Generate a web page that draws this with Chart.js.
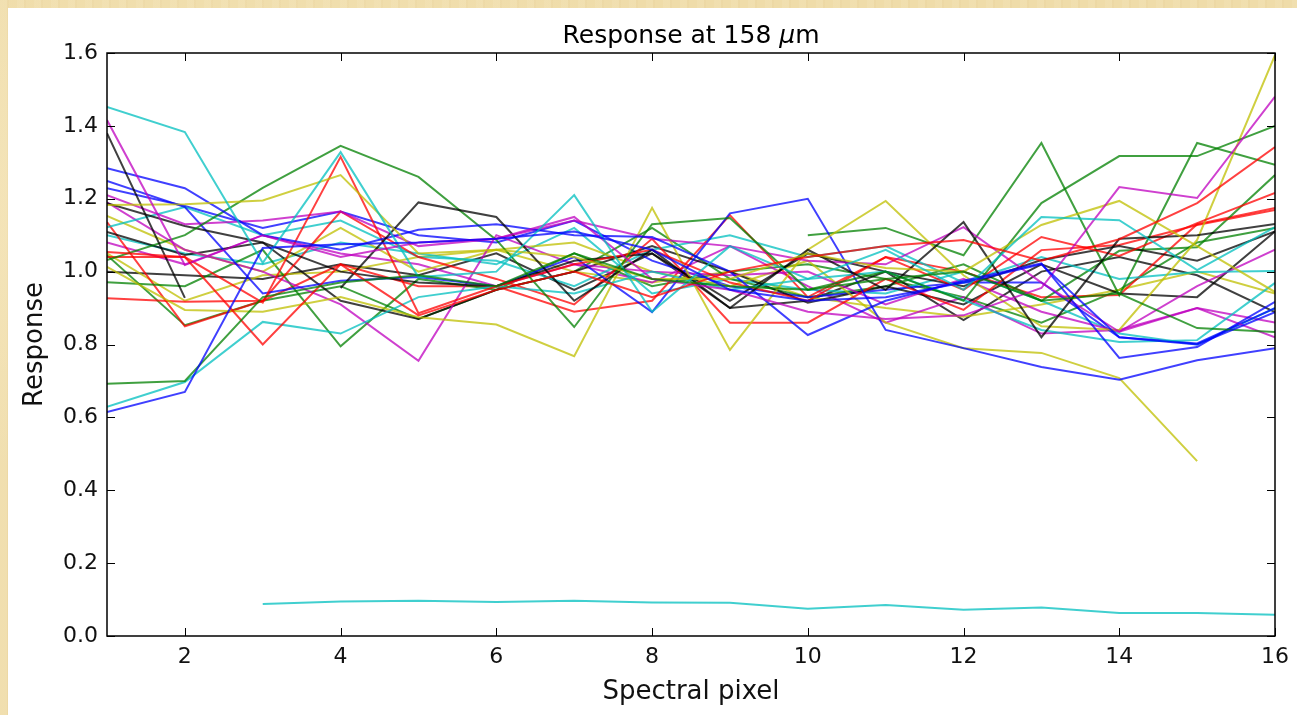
<!DOCTYPE html>
<html>
<head>
<meta charset="utf-8">
<title>Response at 158 um</title>
<script src="https://cdn.jsdelivr.net/npm/chart.js@4.4.0/dist/chart.umd.min.js"></script>
<style>
  html, body { margin: 0; padding: 0; }
  body {
    width: 1297px; height: 715px; overflow: hidden; position: relative;
    background-color: #efdca9;
    background-image:
      radial-gradient(ellipse at 20% 30%, rgba(255,245,215,0.35), rgba(255,245,215,0) 40%),
      radial-gradient(ellipse at 70% 80%, rgba(215,180,120,0.25), rgba(215,180,120,0) 45%),
      repeating-linear-gradient(90deg, rgba(255,250,230,0.10) 0 7px, rgba(210,175,115,0.08) 7px 9px, rgba(255,255,255,0) 9px 17px);
  }
  #wrap { position: absolute; left: 8px; top: 8px; width: 1289px; height: 707px; background: #fff; }
</style>
</head>
<body>
<div id="wrap"><canvas id="respChart"></canvas></div>
<script>
// spectral pixel index (x) and y axis ticks
const pixels = [1, 2, 3, 4, 5, 6, 7, 8, 9, 10, 11, 12, 13, 14, 15, 16];
const yTicks = [0, 0.2, 0.4, 0.6, 0.8, 1.0, 1.2, 1.4, 1.6];

// response curves, one per spaxel
const blue1 = [0.615, 0.67, 1.065, 1.075, 1.08, 1.09, 1.11, 1.06, 0.95, 0.92, 0.93, 0.97, 1.02, 0.82, 0.80, 0.889];
const blue2 = [1.284, 1.229, 1.10, 1.06, 1.115, 1.13, 1.10, 1.095, 1.00, 0.826, 0.92, 0.975, 1.023, 0.763, 0.793, 0.917];
const blue3 = [1.249, 1.177, 0.94, 0.975, 0.985, 0.96, 1.04, 0.889, 1.16, 1.20, 0.84, 0.79, 0.738, 0.703, 0.757, 0.79];
const blue4 = [1.229, 1.18, 1.12, 1.165, 1.10, 1.08, 1.14, 1.03, 0.96, 0.93, 0.95, 0.97, 0.97, 0.82, 0.803, 0.90];

const green1 = [0.692, 0.70, 0.93, 0.97, 0.99, 0.96, 1.05, 0.98, 0.96, 0.95, 0.98, 1.00, 0.92, 0.94, 0.845, 0.834];
const green2 = [1.032, 1.10, 1.23, 1.345, 1.26, 1.087, 0.848, 1.13, 1.147, 0.95, 1.00, 0.92, 1.188, 1.317, 1.317, 1.40];
const green3 = [null, null, null, null, null, null, null, null, null, 1.10, 1.12, 1.045, 1.353, 0.935, 1.353, 1.293];
const green4 = [0.971, 0.96, 1.06, 0.795, 0.98, 0.95, 1.00, 1.12, 0.98, 0.93, 0.96, 1.02, 0.92, 1.057, 1.067, 1.265];
const green5 = [1.045, 0.853, 0.92, 0.96, 0.87, 0.95, 1.05, 0.96, 1.00, 1.02, 0.98, 0.93, 0.86, 0.95, 1.08, 1.12];

const red1 = [1.054, 1.04, 0.80, 1.02, 0.88, 0.95, 1.00, 0.93, 1.00, 1.04, 1.07, 1.087, 1.03, 1.089, 1.188, 1.342];
const red2 = [1.04, 1.04, 0.915, 1.315, 0.886, 0.96, 1.02, 1.06, 0.97, 0.92, 1.04, 0.95, 1.095, 1.043, 1.133, 1.216];
const red3 = [0.927, 0.917, 0.92, 1.165, 1.04, 0.98, 0.91, 1.09, 0.86, 0.86, 0.98, 0.895, 1.059, 1.073, 1.128, 1.169];
const red4 = [1.136, 0.85, 0.92, 1.02, 0.96, 0.96, 0.89, 0.92, 1.155, 0.93, 1.04, 1.00, 0.93, 0.936, 1.13, 1.175];

const cyan1 = [1.452, 1.383, 1.024, 1.328, 0.985, 1.00, 1.21, 0.89, 1.07, 0.98, 1.06, 0.95, 1.15, 1.141, 1.004, 1.122];
const cyan2 = [0.629, 0.697, 0.862, 0.83, 0.93, 0.96, 0.94, 1.00, 0.95, 0.98, 1.00, 0.922, 0.84, 0.807, 0.812, 0.969];
const cyan3 = [1.122, 1.177, 1.10, 1.14, 1.04, 1.03, 0.96, 1.06, 1.10, 1.04, 1.07, 0.97, 1.04, 0.98, 0.999, 1.002];
const cyan4 = [1.10, 1.05, 1.02, 1.08, 1.05, 1.02, 1.12, 0.94, 0.98, 0.95, 0.94, 1.00, 0.92, 0.83, 0.80, 0.90];
const cyanLow = [null, null, 0.088, 0.095, 0.097, 0.093, 0.097, 0.092, 0.091, 0.075, 0.085, 0.072, 0.078, 0.063, 0.063, 0.058];

const magenta1 = [1.416, 1.018, 1.10, 1.04, 1.08, 1.09, 1.15, 0.98, 0.95, 0.89, 0.87, 0.88, 0.955, 1.232, 1.202, 1.48];
const magenta2 = [1.21, 1.13, 1.14, 1.165, 1.07, 1.09, 1.14, 1.09, 1.07, 1.03, 1.02, 1.122, 0.97, 0.835, 0.90, 0.82];
const magenta3 = [1.19, 1.06, 1.00, 0.91, 0.755, 1.10, 1.02, 1.00, 0.99, 1.00, 0.91, 0.98, 0.89, 0.835, 0.96, 1.06];
const magenta4 = [1.08, 1.02, 1.10, 1.05, 1.02, 0.96, 1.02, 0.97, 1.07, 0.96, 0.86, 0.93, 0.83, 0.84, 0.90, 0.86];

const yellow1 = [1.183, 1.185, 1.195, 1.265, 1.05, 1.06, 1.04, 0.98, 0.98, 1.05, 1.01, 1.00, 1.128, 1.194, 1.07, 0.944];
const yellow2 = [1.013, 0.895, 0.89, 0.93, 0.875, 0.855, 0.768, 1.175, 0.785, 1.06, 1.194, 0.99, 0.85, 0.84, 1.087, 1.594];
const yellow3 = [1.153, 1.06, 1.00, 1.12, 1.00, 1.06, 1.08, 1.00, 0.96, 1.03, 0.86, 0.79, 0.777, 0.708, 0.48, null];
const yellow4 = [1.05, 0.92, 0.99, 1.00, 1.04, 1.06, 1.00, 0.97, 1.00, 0.93, 0.90, 0.876, 0.91, 0.95, 1.00, 0.94];

const black1 = [1.38, 0.928, null, 0.955, 1.19, 1.15, 0.92, 1.06, 0.90, 1.06, 0.95, 1.136, 0.82, 1.09, 1.10, 1.131];
const black2 = [1.188, 1.125, 1.08, 1.00, 0.97, 0.96, 1.03, 1.05, 0.92, 1.05, 1.00, 0.96, 1.032, 1.07, 1.03, 1.11];
const black3 = [1.109, 1.046, 1.08, 0.92, 0.87, 0.95, 1.00, 1.07, 1.00, 0.915, 0.96, 0.91, 1.02, 0.94, 0.93, 1.11];
const black4 = [1.0, 0.99, 0.98, 1.02, 0.99, 1.05, 0.95, 1.05, 0.90, 0.92, 1.00, 0.867, 1.00, 1.04, 0.99, 0.889];

// matplotlib classic colour cycle, a bit see-through
const colB = 'rgba(0, 0, 255, 0.75)';
const colG = 'rgba(0, 128, 0, 0.75)';
const colR = 'rgba(255, 0, 0, 0.75)';
const colC = 'rgba(0, 191, 191, 0.75)';
const colM = 'rgba(191, 0, 191, 0.75)';
const colY = 'rgba(191, 191, 0, 0.75)';
const colK = 'rgba(0, 0, 0, 0.75)';

const series = [
  [blue1, colB], [green1, colG], [red1, colR], [cyan1, colC], [magenta1, colM], [yellow1, colY], [black1, colK],
  [blue2, colB], [green2, colG], [red2, colR], [cyan2, colC], [magenta2, colM], [yellow2, colY], [black2, colK],
  [blue3, colB], [green3, colG], [red3, colR], [cyan3, colC], [magenta3, colM], [yellow3, colY], [black3, colK],
  [blue4, colB], [green4, colG], [red4, colR], [cyan4, colC], [magenta4, colM], [yellow4, colY], [black4, colK],
  [green5, colG], [cyanLow, colC]
];

const FONT = "'DejaVu Sans', 'Liberation Sans', sans-serif";

// axes box with ticks pointing inwards, like matplotlib
const insideTicks = {
  id: 'insideTicks',
  afterDatasetsDraw(chart) {
    const { ctx, chartArea: a, scales } = chart;
    ctx.save();
    ctx.strokeStyle = '#000';
    ctx.lineWidth = 1;
    ctx.beginPath();
    scales.x.ticks.forEach(t => {
      const px = Math.round(scales.x.getPixelForValue(t.value)) + 0.5;
      ctx.moveTo(px, a.bottom); ctx.lineTo(px, a.bottom - 8);
      ctx.moveTo(px, a.top); ctx.lineTo(px, a.top + 8);
    });
    scales.y.ticks.forEach(t => {
      const py = Math.round(scales.y.getPixelForValue(t.value)) + 0.5;
      ctx.moveTo(a.left, py); ctx.lineTo(a.left + 8, py);
      ctx.moveTo(a.right, py); ctx.lineTo(a.right - 8, py);
    });
    ctx.stroke();
    ctx.lineWidth = 1.5;
    ctx.strokeRect(a.left, a.top, a.right - a.left, a.bottom - a.top);
    ctx.restore();
  }
};

// title with the italic mu of mathtext
const plotTitle = {
  id: 'plotTitle',
  afterDraw(chart) {
    const { ctx, chartArea: a } = chart;
    const parts = [
      ['Response at 158 ', 'normal 25px ' + FONT],
      ['\u03bc', 'italic 25px ' + FONT],
      ['m', 'normal 25px ' + FONT]
    ];
    ctx.save();
    ctx.fillStyle = '#000';
    ctx.textBaseline = 'alphabetic';
    let total = 0;
    parts.forEach(p => { ctx.font = p[1]; total += ctx.measureText(p[0]).width; });
    let x = (a.left + a.right) / 2 - total / 2;
    parts.forEach(p => {
      ctx.font = p[1];
      ctx.fillText(p[0], x, a.top - 10);
      x += ctx.measureText(p[0]).width;
    });
    ctx.restore();
  }
};

function initRespChart() {
  const ctx = document.getElementById('respChart').getContext('2d');
  new Chart(ctx, {
    type: 'line',
    data: {
      labels: pixels,
      datasets: series.map(s => ({
        data: s[0],
        borderColor: s[1],
        borderWidth: 2,
        pointRadius: 0,
        tension: 0,
        fill: false,
        spanGaps: false
      }))
    },
    options: {
      responsive: true,
      maintainAspectRatio: false,
      animation: false,
      layout: { padding: { top: 45, right: 21, left: 0, bottom: 0 } },
      plugins: {
        legend: { display: false },
        title: { display: false },
        tooltip: { enabled: false }
      },
      scales: {
        x: {
          type: 'linear',
          min: 1,
          max: 16,
          grid: { display: false, drawTicks: false },
          border: { display: false },
          ticks: {
            stepSize: 2,
            includeBounds: false,
            autoSkip: false,
            maxRotation: 0,
            padding: 8,
            color: '#111',
            font: { family: FONT, size: 22 }
          },
          title: {
            display: true,
            text: 'Spectral pixel',
            color: '#111',
            font: { family: FONT, size: 26 },
            padding: { top: 0, bottom: 7 }
          },
          afterFit(scale) { scale.height = 79; }
        },
        y: {
          min: 0,
          max: 1.6,
          grid: { display: false, drawTicks: false },
          border: { display: false },
          afterBuildTicks(scale) { scale.ticks = yTicks.map(v => ({ value: v })); },
          ticks: {
            padding: 9,
            color: '#111',
            font: { family: FONT, size: 22 },
            callback: v => Number(v).toFixed(1)
          },
          title: {
            display: true,
            text: 'Response',
            color: '#111',
            font: { family: FONT, size: 26 },
            padding: { top: 12, bottom: 0 }
          },
          afterFit(scale) { scale.width = 99; }
        }
      }
    },
    plugins: [insideTicks, plotTitle]
  });
}

initRespChart();
</script>
</body>
</html>
